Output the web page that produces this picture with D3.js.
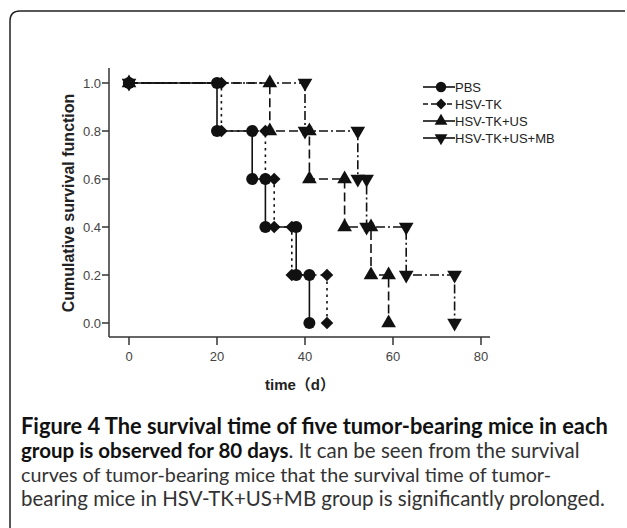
<!DOCTYPE html>
<html>
<head>
<meta charset="utf-8">
<script src="https://cdn.jsdelivr.net/npm/d3@7"></script>
<style>
  body { margin: 0; background: #fff; }
  svg { display: block; }
  .tick-label { font-family: "Liberation Sans", Arial, sans-serif; font-size: 13px; fill: #444; }
  .legend-label { font-family: "Liberation Sans", Arial, sans-serif; font-size: 13px; fill: #222; }
</style>
</head>
<body>
<div id="graphHolder"></div>
<script>
'use strict'
// event times (days) per group, survival after each step
var groups = ["PBS", "HSV-TK", "HSV-TK+US", "HSV-TK+US+MB"];
var pbsTimes = [0, 20, 28, 31, 38, 41];
var hsvTkTimes = [0, 21, 31, 33, 37, 45];
var hsvTkUsTimes = [0, 32, 41, 49, 55, 59];
var hsvTkUsMbTimes = [0, 40, 52, 54, 63, 74];
var survival = [1.0, 0.8, 0.6, 0.4, 0.2, 0.0];
var xTicks = [0, 20, 40, 60, 80];
var yTicks = [0.0, 0.2, 0.4, 0.6, 0.8, 1.0];
var captionLines = [
    [["Figure 4 The survival time of five tumor-bearing mice in each", true]],
    [["group is observed for 80 days", true], [". It can be seen from the survival", false]],
    [["curves of tumor-bearing mice that the survival time of tumor-", false]],
    [["bearing mice in HSV-TK+US+MB group is significantly prolonged.", false]]
];

var seriesTimes = [pbsTimes, hsvTkTimes, hsvTkUsTimes, hsvTkUsMbTimes];
var markers = ["circle", "diamond", "up", "down"];
var dashes = [null, "2.5,4", "9,4", "9,3,2,3"];

var width = 627, height = 528;
var svg = d3.select("#graphHolder").append("svg")
        .attr("width", width)
        .attr("height", height);

// figure frame (open on right and bottom like the crop)
svg.append("path")
        .attr("d", "M10," + height + " V21 Q10,11 20,11 H625")
        .attr("fill", "none")
        .attr("stroke", "#222")
        .attr("stroke-width", 1.5);

var x = d3.scaleLinear().domain([0, 80]).range([129, 481]);
var y = d3.scaleLinear().domain([0, 1]).range([323, 83]);
var axisY = 337, axisX = 109;

// axes
var axesG = svg.append("g").attr("class", "axes")
        .attr("stroke", "#333").attr("stroke-width", 1.5);
axesG.append("line")
        .attr("x1", axisX).attr("x2", axisX)
        .attr("y1", 68).attr("y2", axisY);
axesG.append("line")
        .attr("x1", axisX).attr("x2", 490)
        .attr("y1", axisY).attr("y2", axisY);

var xAxis = svg.append("g").selectAll("g.x").data(xTicks).enter().append("g")
        .attr("transform", function (d) { return "translate(" + x(d) + "," + axisY + ")"; });
xAxis.append("line").attr("y1", 0).attr("y2", 8)
        .attr("stroke", "#333").attr("stroke-width", 1.5);
xAxis.append("text").attr("class", "tick-label")
        .attr("y", 24).attr("text-anchor", "middle")
        .text(function (d) { return d; });

var yAxis = svg.append("g").selectAll("g.y").data(yTicks).enter().append("g")
        .attr("transform", function (d) { return "translate(" + axisX + "," + y(d) + ")"; });
yAxis.append("line").attr("x1", 0).attr("x2", -7)
        .attr("stroke", "#333").attr("stroke-width", 1.5);
yAxis.append("text").attr("class", "tick-label")
        .attr("x", -8).attr("dy", "0.36em").attr("text-anchor", "end")
        .text(function (d) { return d.toFixed(1); });

// axis titles
svg.append("text")
        .attr("transform", "translate(74," + y(0.5) + ") rotate(-90)")
        .attr("text-anchor", "middle")
        .style("font-family", "'Liberation Sans', Arial, sans-serif")
        .style("font-weight", "bold")
        .style("font-size", "16px")
        .style("fill", "#222")
        .text("Cumulative survival function");

svg.append("text")
        .attr("x", 300).attr("y", 390)
        .attr("text-anchor", "middle")
        .style("font-family", "'Liberation Sans', 'Noto Sans CJK SC', sans-serif")
        .style("font-weight", "bold")
        .style("font-size", "15px")
        .style("fill", "#222")
        .text("time（d）");

function markerPath(m, r) {
    if (m === "circle") return d3.symbol().type(d3.symbolCircle).size(Math.PI * r * r)();
    if (m === "diamond") return d3.symbol().type(d3.symbolSquare).size(2 * r * r * 1.1)();
    return d3.symbol().type(d3.symbolTriangle).size(r * r * 2.6)();
}
function markerTransform(m, px, py) {
    var rot = m === "down" ? " rotate(180)" : (m === "diamond" ? " rotate(45)" : "");
    return "translate(" + px + "," + py + ")" + rot;
}

var line = d3.line()
        .x(function (d) { return x(d[0]); })
        .y(function (d) { return y(d[1]); })
        .curve(d3.curveStepAfter);

var bodyG = svg.append("g").attr("class", "body");

seriesTimes.forEach(function (times, i) {
    var pts = times.map(function (t, j) { return [t, survival[j]]; });
    bodyG.append("path")
            .attr("d", line(pts))
            .attr("fill", "none")
            .attr("stroke", "#111")
            .attr("stroke-width", 1.6)
            .attr("stroke-dasharray", dashes[i]);

    // marks at both corners of every step
    var marks = [[times[0], survival[0]]];
    for (var j = 1; j < times.length; j++) {
        marks.push([times[j], survival[j - 1]]);
        marks.push([times[j], survival[j]]);
    }
    bodyG.selectAll("path.m" + i).data(marks).enter().append("path")
            .attr("class", "m" + i)
            .attr("d", markerPath(markers[i], 6))
            .attr("transform", function (d) { return markerTransform(markers[i], x(d[0]), y(d[1])); })
            .attr("fill", "#111");
});

// legend
var legendRows = [87, 104, 121, 138];
var legend = svg.append("g").selectAll("g.legend").data(groups).enter().append("g")
        .attr("transform", function (d, i) { return "translate(0," + legendRows[i] + ")"; });
legend.append("line")
        .attr("x1", 423).attr("x2", 455)
        .attr("stroke", "#111").attr("stroke-width", 1.6)
        .attr("stroke-dasharray", function (d, i) { return i === 1 ? "5,3" : null; });
legend.append("path")
        .attr("d", function (d, i) { return markerPath(markers[i], 5.2); })
        .attr("transform", function (d, i) { return markerTransform(markers[i], 441, 0); })
        .attr("fill", "#111");
legend.append("text").attr("class", "legend-label")
        .attr("x", 455).attr("dy", "0.36em")
        .text(function (d) { return d; });

// caption
var captionTop = [434, 458, 482, 506];
var captionRight = [608, 580, 551, 605];
captionLines.forEach(function (parts, i) {
    var t = svg.append("text")
            .attr("x", 21).attr("y", captionTop[i])
            .style("font-family", "Lato, 'Open Sans', sans-serif")
            .style("fill", "#333");
    parts.forEach(function (p) {
        t.append("tspan")
                .style("font-weight", p[1] ? "bold" : "normal")
                .style("fill", p[1] ? "#111" : "#333")
                .text(p[0]);
    });
    // fit each line to its measured width in the figure
    t.style("font-size", "16px");
    var len = t.node().getComputedTextLength();
    t.style("font-size", (16 * (captionRight[i] - 21) / len).toFixed(2) + "px");
});
</script>
</body>
</html>
